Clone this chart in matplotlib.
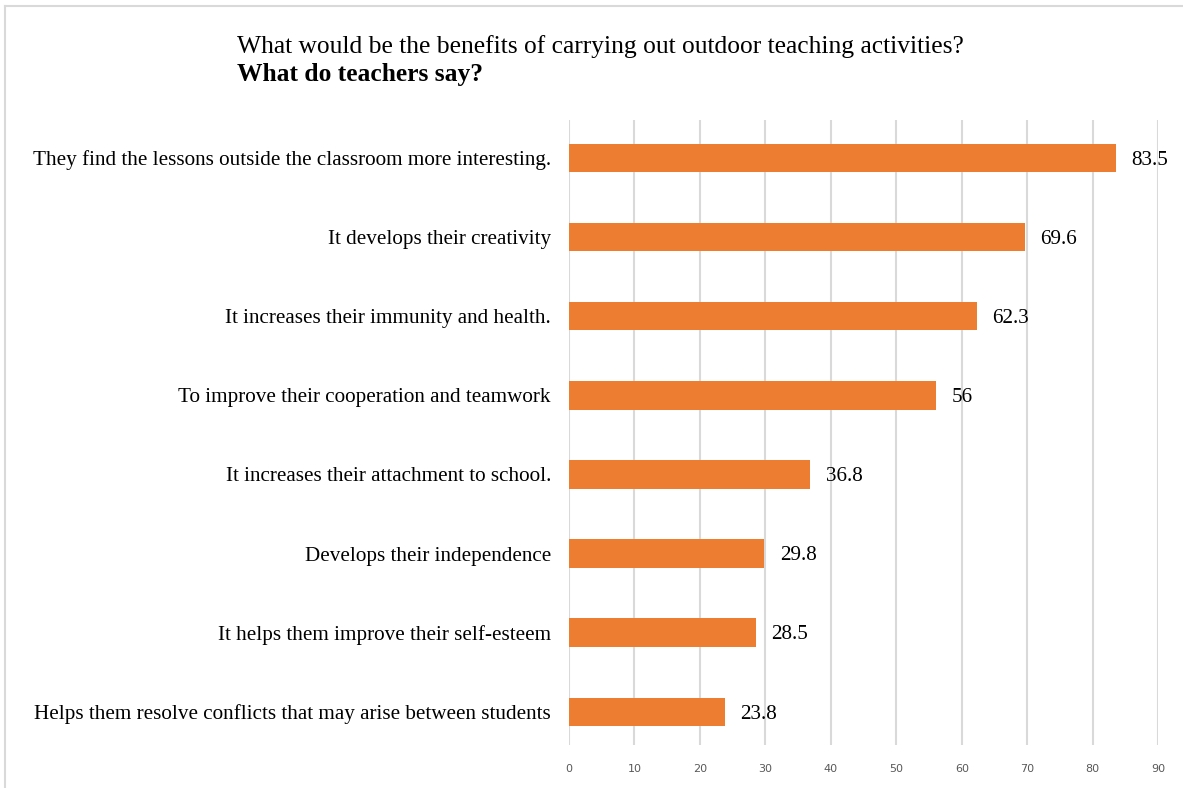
import matplotlib.pyplot as plt
from matplotlib.lines import Line2D

categories = [
    "They find the lessons outside the classroom more interesting.",
    "It develops their creativity",
    "It increases their immunity and health.",
    "To improve their cooperation and teamwork",
    "It increases their attachment to school.",
    "Develops their independence",
    "It helps them improve their self-esteem",
    "Helps them resolve conflicts that may arise between students",
]
values = [83.5, 69.6, 62.3, 56, 36.8, 29.8, 28.5, 23.8]
value_labels = ["83.5", "69.6", "62.3", "56", "36.8", "29.8", "28.5", "23.8"]
xticks = [0, 10, 20, 30, 40, 50, 60, 70, 80, 90]

fig = plt.figure(figsize=(11.83, 7.88), dpi=100)
ax = fig.add_axes([0.481, 0.0546, 0.498, 0.7932])

ypos = list(range(len(categories)))
ax.barh(ypos, values, height=0.36, color="#ED7D31", zorder=3)
ax.set_xlim(0, 90)
ax.set_ylim(7.42, -0.48)

ax.set_xticks(xticks)
ax.set_xticklabels([str(t) for t in xticks], fontsize=8, color="#595959", family="DejaVu Sans")
ax.tick_params(axis="x", length=0, pad=14)
ax.set_yticks(ypos)
ax.set_yticklabels(categories, fontsize=15.2, family="Liberation Serif")
ax.tick_params(axis="y", length=0, pad=13)

ax.grid(axis="x", color="#D9D9D9", linewidth=1.5, zorder=0)
for s in ax.spines.values():
    s.set_visible(False)

for y, v, lab in zip(ypos, values, value_labels):
    ax.text(v + 2.4, y + 0.03, lab, va="center", ha="left", fontsize=15.2, family="Liberation Serif")

fig.text(237 / 1183, 1 - 47 / 788, "What would be the benefits of carrying out outdoor teaching activities?",
         fontsize=18.4, family="Liberation Serif", va="center", ha="left")
fig.text(237 / 1183, 1 - 74 / 788, "What do teachers say?",
         fontsize=18.4, family="Liberation Serif", fontweight="bold", va="center", ha="left")

# frame border
fig.add_artist(Line2D([5 / 1183, 1], [1 - 6 / 788, 1 - 6 / 788], color="#D9D9D9", linewidth=1.5))
fig.add_artist(Line2D([5 / 1183, 5 / 1183], [0, 1 - 6 / 788], color="#D9D9D9", linewidth=1.5))

fig.savefig("out.png", dpi=100)
